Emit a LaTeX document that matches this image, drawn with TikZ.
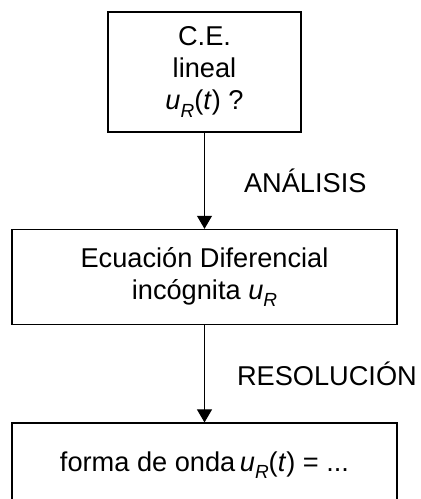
\documentclass[tikz,border=0pt]{standalone}
\usepackage{fontspec}
\setmainfont{Liberation Sans}
\usepackage{tikz}
\usetikzlibrary{positioning}
\usetikzlibrary{arrows.meta}

\newcommand{\uR}{\textit{u}\raisebox{-0.5ex}{\fontsize{9.5}{9.5}\selectfont\textit{R}}}

\begin{document}
\begin{tikzpicture}[
    node distance=48pt,    % gap between boxes
    font=\fontsize{13.6}{16}\selectfont,
    ]
% -------------------------------------------------
\tikzset{
  proc/.style={draw, line width=0.8pt, rectangle, align=center, inner sep=0pt},
  tag/.style={inner sep=0pt, anchor=west},
  line/.style={draw, line width=0.5pt, -{Triangle[width=7.5pt,length=6.5pt]}}
}
% -------------------------------------------------
\useasboundingbox (0,0) rectangle (210pt,-249.5pt);

% Placing the nodes
\node [proc, minimum width=96.5pt, minimum height=60pt] (ce) at (102.25pt,-36pt)
  {C.E.\\lineal\\\uR(\textit{t}) ?};
\node [proc, minimum width=192.5pt, minimum height=47.5pt, below=of ce] (ed)
  {Ecuación Diferencial\\incógnita \uR};
\node [proc, minimum width=192.5pt, minimum height=42pt, below=48.5pt of ed] (fo)
  {forma de onda\,\uR(\textit{t}) = ...};

\path [line] (ce) -- node[tag, xshift=19.5pt] {ANÁLISIS} (ed);
\path [line] (ed) -- node[tag, xshift=16pt] {RESOLUCIÓN} (fo);

\end{tikzpicture}
\end{document}
